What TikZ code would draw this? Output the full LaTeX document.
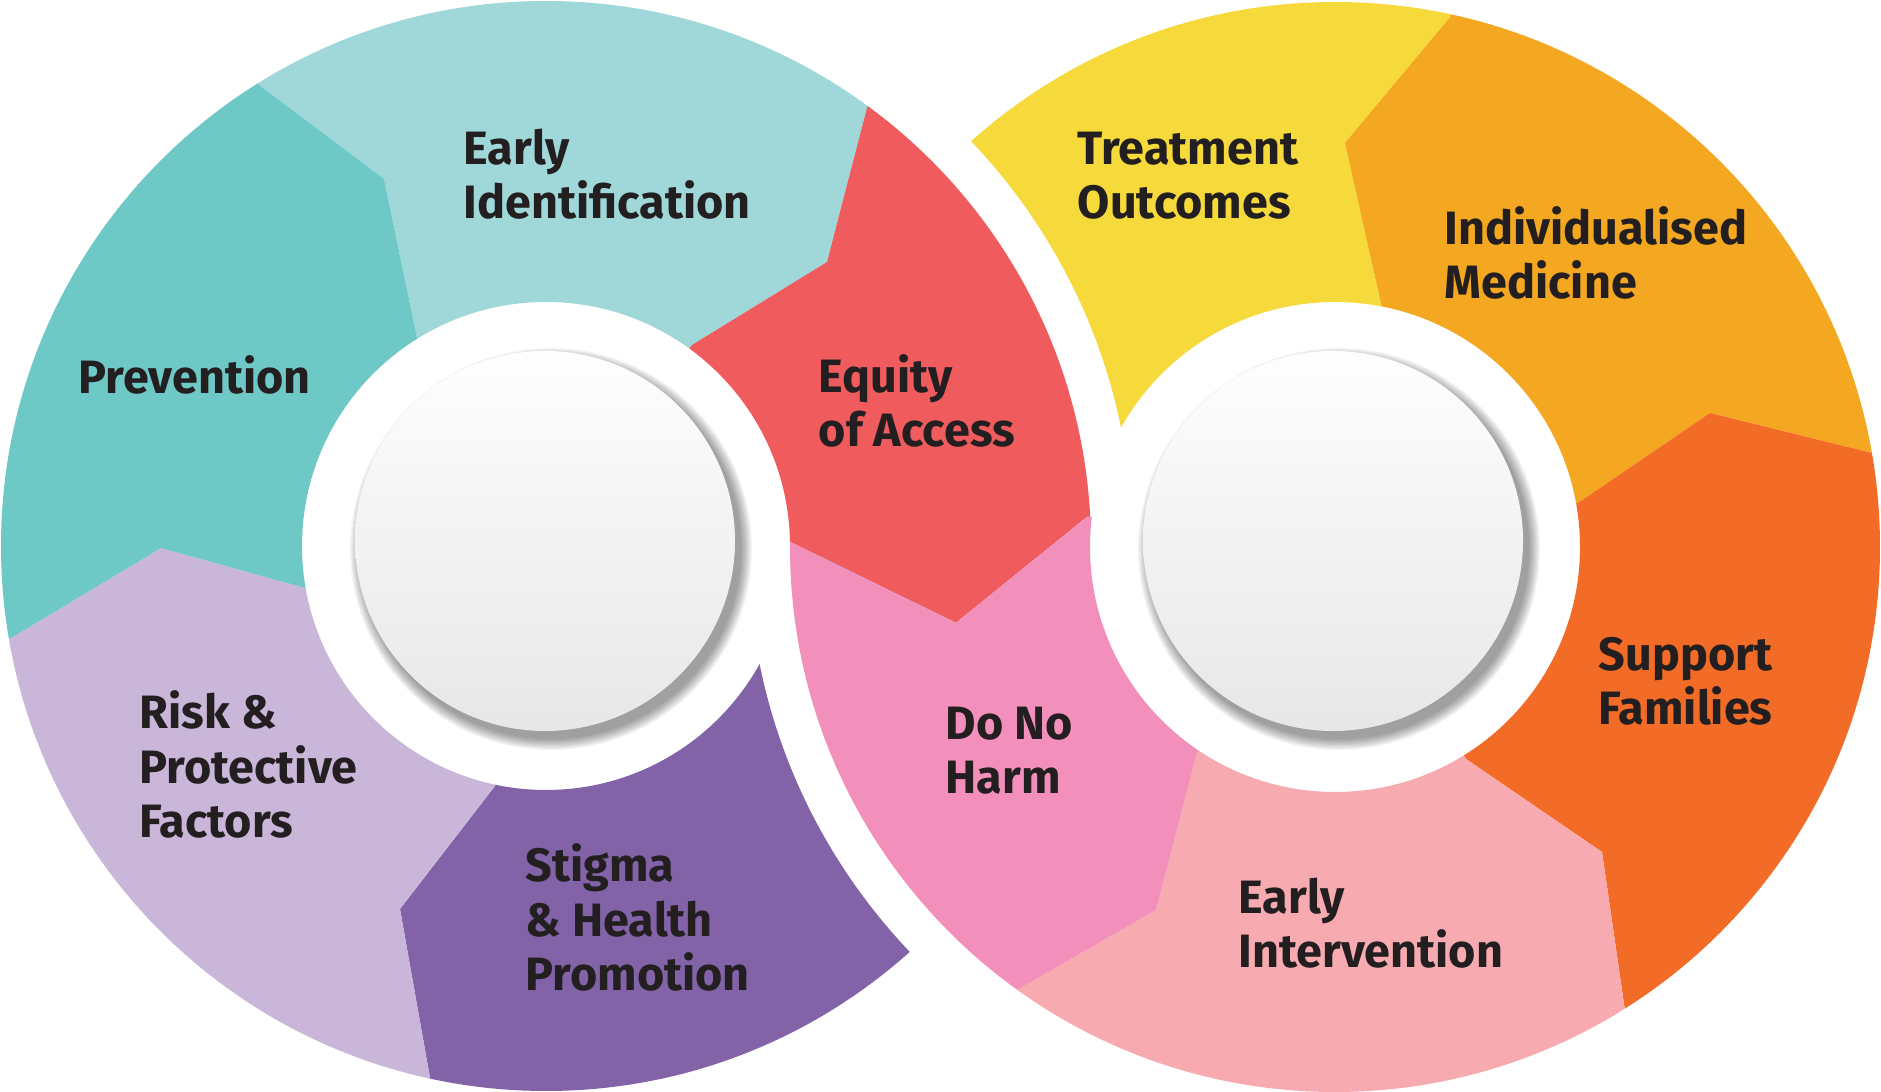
\documentclass[tikz,border=0pt]{standalone}
\usepackage{fontspec}
\setmainfont{Fira Sans}
\usetikzlibrary{calc}

\definecolor{prevcol}{HTML}{6EC8C6}
\definecolor{earlyidcol}{HTML}{A0D8D9}
\definecolor{equitycol}{HTML}{F05B5E}
\definecolor{stigmacol}{HTML}{8363A8}
\definecolor{riskcol}{HTML}{C9B6D9}
\definecolor{treatcol}{HTML}{F6D93B}
\definecolor{medcol}{HTML}{F4A720}
\definecolor{famcol}{HTML}{F36C27}
\definecolor{intervcol}{HTML}{F7AAB0}
\definecolor{harmcol}{HTML}{F290BB}
\definecolor{textcol}{HTML}{231F20}
\definecolor{disctop}{HTML}{FEFEFE}
\definecolor{discbot}{HTML}{E7E7E7}

\newcommand{\rightsegments}{%
  \fill[treatcol] (RC) -- (535,400) -- (769,-19) -- (1497,-196) -- (1451,16) -- (1345,143) -- (1382,308) -- cycle;
  \fill[medcol] (RC) -- (1382,308) -- (1345,143) -- (1451,16) -- (1497,-196) -- (1948,33) -- (2087,415) -- (1872,453) -- (1710,413) -- (1578,503) -- cycle;
  \fill[famcol] (RC) -- (1578,503) -- (1710,413) -- (1872,453) -- (2087,415) -- (2028,947) -- (1741,1197) -- (1625,1011) -- (1602,852) -- (1466,759) -- cycle;
  \fill[intervcol] (RC) -- (1466,759) -- (1602,852) -- (1625,1011) -- (1741,1197) -- (1335,1347) -- (890,1167) -- (1017,990) -- (1156,910) -- (1197,753) -- cycle;
  \fill[harmcol] (RC) -- (1197,753) -- (1156,910) -- (1017,990) -- (890,1167) -- (583,821) -- (535,400) -- cycle;
}

\begin{document}
\begin{tikzpicture}[x=0.01cm,y=-0.01cm,
    seglabel/.style={anchor=base west,align=left,inner sep=0,text=textcol,
      font=\fontsize{13.3pt}{15.5pt}\selectfont\bfseries},
    innerdisc/.style={top color=disctop,bottom color=discbot,draw=none},
    softshadow/.style={fill=black,opacity=.045}]

  \useasboundingbox (0,0) rectangle (1881,1092);
  \fill[white] (0,0) rectangle (1881,1092);
  \clip (0,0) rectangle (1881,1092);

  \coordinate (LC) at (546,546);
  \coordinate (RC) at (1335,547);
  \coordinate (LD) at (545,541);
  \coordinate (RD) at (1333,541);

  % left ring
  \begin{scope}[even odd rule]
    \clip (LC) circle [radius=545] (LC) circle [radius=244];
    \fill[earlyidcol] (LC) -- (417,338) -- (384,179) -- (259,85) -- (144,-99) -- (997,-73) -- (868,104) -- (827,262) -- (692,345) -- cycle;
    \fill[equitycol] (LC) -- (692,345) -- (827,262) -- (868,104) -- (997,-73) -- (1252,170) -- (1303,505) -- (1087,517) -- (956,623) -- (790,542) -- cycle;
    \fill[stigmacol] (LC) -- (790,542) -- (956,623) -- (1087,517) -- (1303,505) -- (1239,946) -- (884,1271) -- (384,1291) -- (430,1078) -- (400,909) -- (495,786) -- cycle;
    \fill[riskcol] (LC) -- (495,786) -- (400,909) -- (430,1078) -- (384,1291) -- (-20,1112) -- (-203,675) -- (11,638) -- (161,548) -- (305,588) -- cycle;
    \fill[prevcol] (LC) -- (305,588) -- (161,548) -- (11,638) -- (-203,675) -- (-185,221) -- (144,-99) -- (259,85) -- (384,179) -- (417,338) -- cycle;
  \end{scope}

  % right ring, lower half on top
  \begin{scope}[even odd rule]
    \clip (0,542) -- (790,542) -- (956,623) -- (1087,517) -- (1881,517) -- (1881,1092) -- (0,1092) -- cycle;
    \fill[white] (RC) circle [radius=587];
    \clip (RC) circle [radius=545] (RC) circle [radius=245];
    \rightsegments
  \end{scope}

  % right ring, upper half below
  \begin{scope}[even odd rule]
    \clip (0,542) -- (790,542) -- (956,623) -- (1087,517) -- (1881,517) -- (1881,0) -- (0,0) -- cycle;
    \clip (-100,-100) rectangle (2000,1200) (LC) circle [radius=587];
    \clip (RC) circle [radius=545] (RC) circle [radius=245];
    \rightsegments
  \end{scope}

  \foreach \k in {1,...,10} {
    \fill[softshadow] ($(LD)+(6,8)$) circle [radius=189+1.2*\k];
    \fill[softshadow] ($(RD)+(6,8)$) circle [radius=189+1.2*\k];
  }
  \shade[innerdisc] (LD) circle [radius=190];
  \shade[innerdisc] (RD) circle [radius=190];

  \node[seglabel] (EARLYID) at (463,219) {Early\\Identification};
  \node[seglabel] (PREVENTION) at (78,394) {Prevention};
  \node[seglabel] (EQUITY) at (818,447) {Equity\\of Access};
  \node[seglabel] (RISK) at (139,838) {Risk \&\\Protective\\Factors};
  \node[seglabel] (STIGMA) at (525,991) {Stigma\\\& Health\\Promotion};
  \node[seglabel] (TREATMENT) at (1077,219) {Treatment\\Outcomes};
  \node[seglabel] (MEDICINE) at (1444,299) {Individualised\\Medicine};
  \node[seglabel] (FAMILIES) at (1598,725) {Support\\Families};
  \node[seglabel] (NOHARM) at (945,794) {Do No\\Harm};
  \node[seglabel] (INTERVENTION) at (1238,968) {Early\\Intervention};

\end{tikzpicture}
\end{document}
